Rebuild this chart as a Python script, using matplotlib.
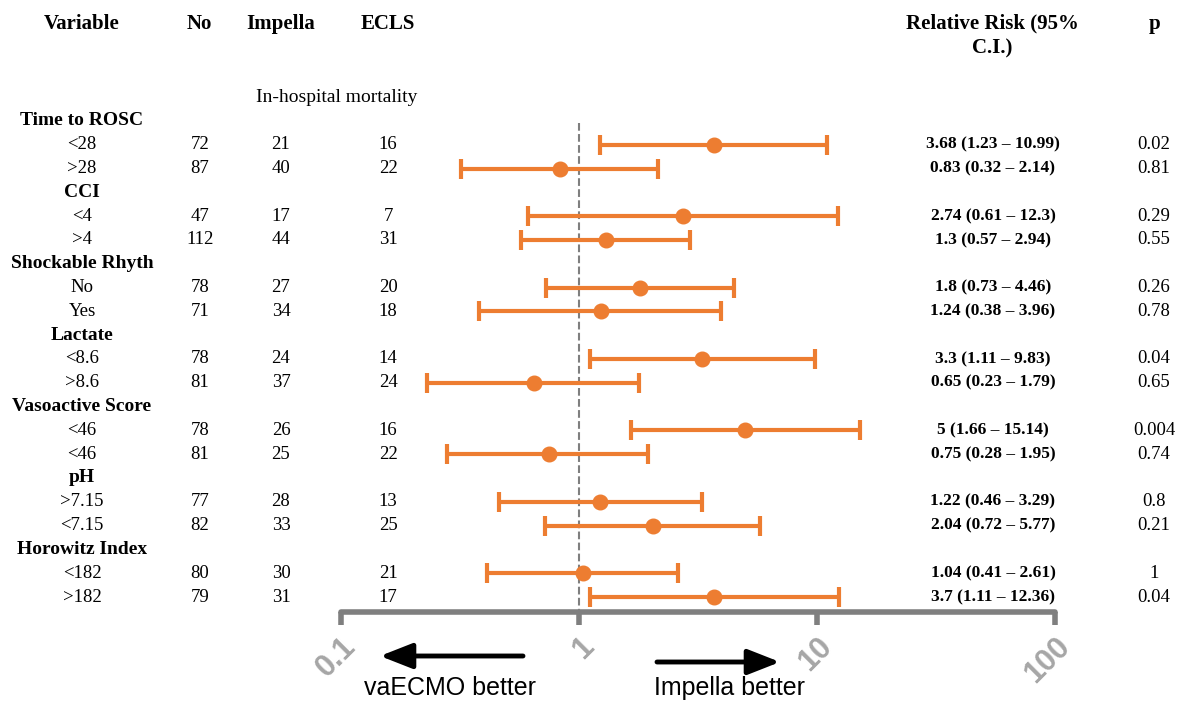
import numpy as np
import matplotlib
matplotlib.use('Agg')
import matplotlib.pyplot as plt
from matplotlib.transforms import blended_transform_factory

# Data
groups = ['Time to ROSC', 'CCI', 'Shockable Rhyth', 'Lactate',
          'Vasoactive Score', 'pH', 'Horowitz Index']
subgroups = [['<28', '>28'], ['<4', '>4'], ['No', 'Yes'], ['<8.6', '>8.6'],
             ['<46', '<46'], ['>7.15', '<7.15'], ['<182', '>182']]
n_no = [72, 87, 47, 112, 78, 71, 78, 81, 78, 81, 77, 82, 80, 79]
n_impella = [21, 40, 17, 44, 27, 34, 24, 37, 26, 25, 28, 33, 30, 31]
n_ecls = [16, 22, 7, 31, 20, 18, 14, 24, 16, 22, 13, 25, 21, 17]
rr = [3.68, 0.83, 2.74, 1.3, 1.8, 1.24, 3.3, 0.65, 5, 0.75, 1.22, 2.04, 1.04, 3.7]
ci_lo = [1.23, 0.32, 0.61, 0.57, 0.73, 0.38, 1.11, 0.23, 1.66, 0.28, 0.46, 0.72, 0.41, 1.11]
ci_hi = [10.99, 2.14, 12.3, 2.94, 4.46, 3.96, 9.83, 1.79, 15.14, 1.95, 3.29, 5.77, 2.61, 12.36]
p_vals = [0.02, 0.81, 0.29, 0.55, 0.26, 0.78, 0.04, 0.65, 0.004, 0.74, 0.8, 0.21, 1, 0.04]

ORANGE = '#ED7D31'
AXIS_GRAY = '#7F7F7F'
SERIF = ['Liberation Serif', 'DejaVu Serif']
SANS = ['Liberation Sans', 'DejaVu Sans']

W, H = 1184, 702
fig = plt.figure(figsize=(W / 100, H / 100), dpi=100)
fig.patch.set_facecolor('white')

# axes placed so that 0.1 -> x=341px, 100 -> x=1055px; bottom spine at y=612px
ax = fig.add_axes([341 / W, 1 - 612 / H, 714 / W, (612 - 110) / H])
ax.set_xscale('log')
ax.set_xlim(0.1, 100)
ax.set_ylim(20.63, -0.46)

# row positions: header then its two subgroups
header_y = []
row_y = []
pos = 0
for g in groups:
    header_y.append(pos)
    row_y.extend([pos + 1, pos + 2])
    pos += 3
row_y = np.array(row_y)

rr = np.array(rr)
ci_lo = np.array(ci_lo)
ci_hi = np.array(ci_hi)

ax.plot([1, 1], [0.1, 20.63], color='#7F7F7F', ls='--', lw=1.5, zorder=1)
ax.errorbar(rr, row_y, xerr=[rr - ci_lo, ci_hi - rr], fmt='o', color=ORANGE,
            ms=10.5, elinewidth=3, capsize=7.5, capthick=3, zorder=3)

for s in ['top', 'right', 'left']:
    ax.spines[s].set_visible(False)
ax.spines['bottom'].set_color(AXIS_GRAY)
ax.spines['bottom'].set_linewidth(4)
ax.spines['bottom'].set_capstyle('round')
ax.set_yticks([])
ax.set_xticks([0.1, 1, 10, 100])
ax.set_xticklabels(['0.1', '1', '10', '100'])
ax.xaxis.set_minor_locator(matplotlib.ticker.NullLocator())
ax.tick_params(axis='x', direction='out', length=9, width=4, color=AXIS_GRAY,
               pad=5)
for lbl in ax.get_xticklabels():
    lbl.set_rotation(45)
    lbl.set_rotation_mode('anchor')
    lbl.set_ha('right')
    lbl.set_va('top')
    lbl.set_fontsize(22)
    lbl.set_fontweight('bold')
    lbl.set_color('#A6A6A6')
    lbl.set_family(SANS)
ax.patch.set_alpha(0)

# table text: x in figure fraction, y in data rows
tr = blended_transform_factory(fig.transFigure, ax.transData)
for g, yh in zip(groups, header_y):
    ax.text(82 / W, yh, g, transform=tr, ha='center', va='center',
            fontsize=14, fontweight='bold', family=SERIF)
sub_flat = [s for pair in subgroups for s in pair]
for i, y in enumerate(row_y):
    kw = dict(transform=tr, va='center', ha='center', fontsize=13.5, family=SERIF)
    ax.text(82 / W, y, sub_flat[i], **kw)
    ax.text(200 / W, y, str(n_no[i]), **kw)
    ax.text(281 / W, y, str(n_impella[i]), **kw)
    ax.text(388 / W, y, str(n_ecls[i]), **kw)
    ax.text(993 / W, y, f'{rr[i]:g} ({ci_lo[i]:g} \u2013 {ci_hi[i]:g})',
            transform=tr, va='center', ha='center', fontsize=12.5,
            fontweight='bold', family=SERIF)
    ax.text(1154 / W, y, f'{p_vals[i]:g}', **kw)

# column headers
hdr = dict(ha='center', va='center', fontsize=15, fontweight='bold', family=SERIF)
fig.text(82 / W, 1 - 24 / H, 'Variable', **hdr)
fig.text(199 / W, 1 - 24 / H, 'No', **hdr)
fig.text(281 / W, 1 - 24 / H, 'Impella', **hdr)
fig.text(388 / W, 1 - 24 / H, 'ECLS', **hdr)
fig.text(992 / W, 1 - 36 / H, 'Relative Risk (95%\nC.I.)', linespacing=1.35, **hdr)
fig.text(1155 / W, 1 - 24 / H, 'p', **hdr)
fig.text(337 / W, 1 - 98 / H, 'In-hospital mortality', ha='center', va='center',
         fontsize=14, family=SERIF)

# direction arrows
arrow = dict(arrowstyle='-|>,head_length=1.4,head_width=0.55', color='black',
             lw=3.5, shrinkA=0, shrinkB=0)
fig.add_artist(matplotlib.patches.FancyArrowPatch(
    (523 / W, 1 - 656 / H), (380 / W, 1 - 656 / H), transform=fig.transFigure,
    mutation_scale=14, **arrow))
fig.add_artist(matplotlib.patches.FancyArrowPatch(
    (657 / W, 1 - 662 / H), (780 / W, 1 - 662 / H), transform=fig.transFigure,
    mutation_scale=14, **arrow))
fig.text(450 / W, 1 - 688 / H, 'vaECMO better', ha='center', va='center',
         fontsize=18, family=SANS)
fig.text(730 / W, 1 - 688 / H, 'Impella better', ha='center', va='center',
         fontsize=18, family=SANS)

fig.savefig('out.png', dpi=100, facecolor='white')
